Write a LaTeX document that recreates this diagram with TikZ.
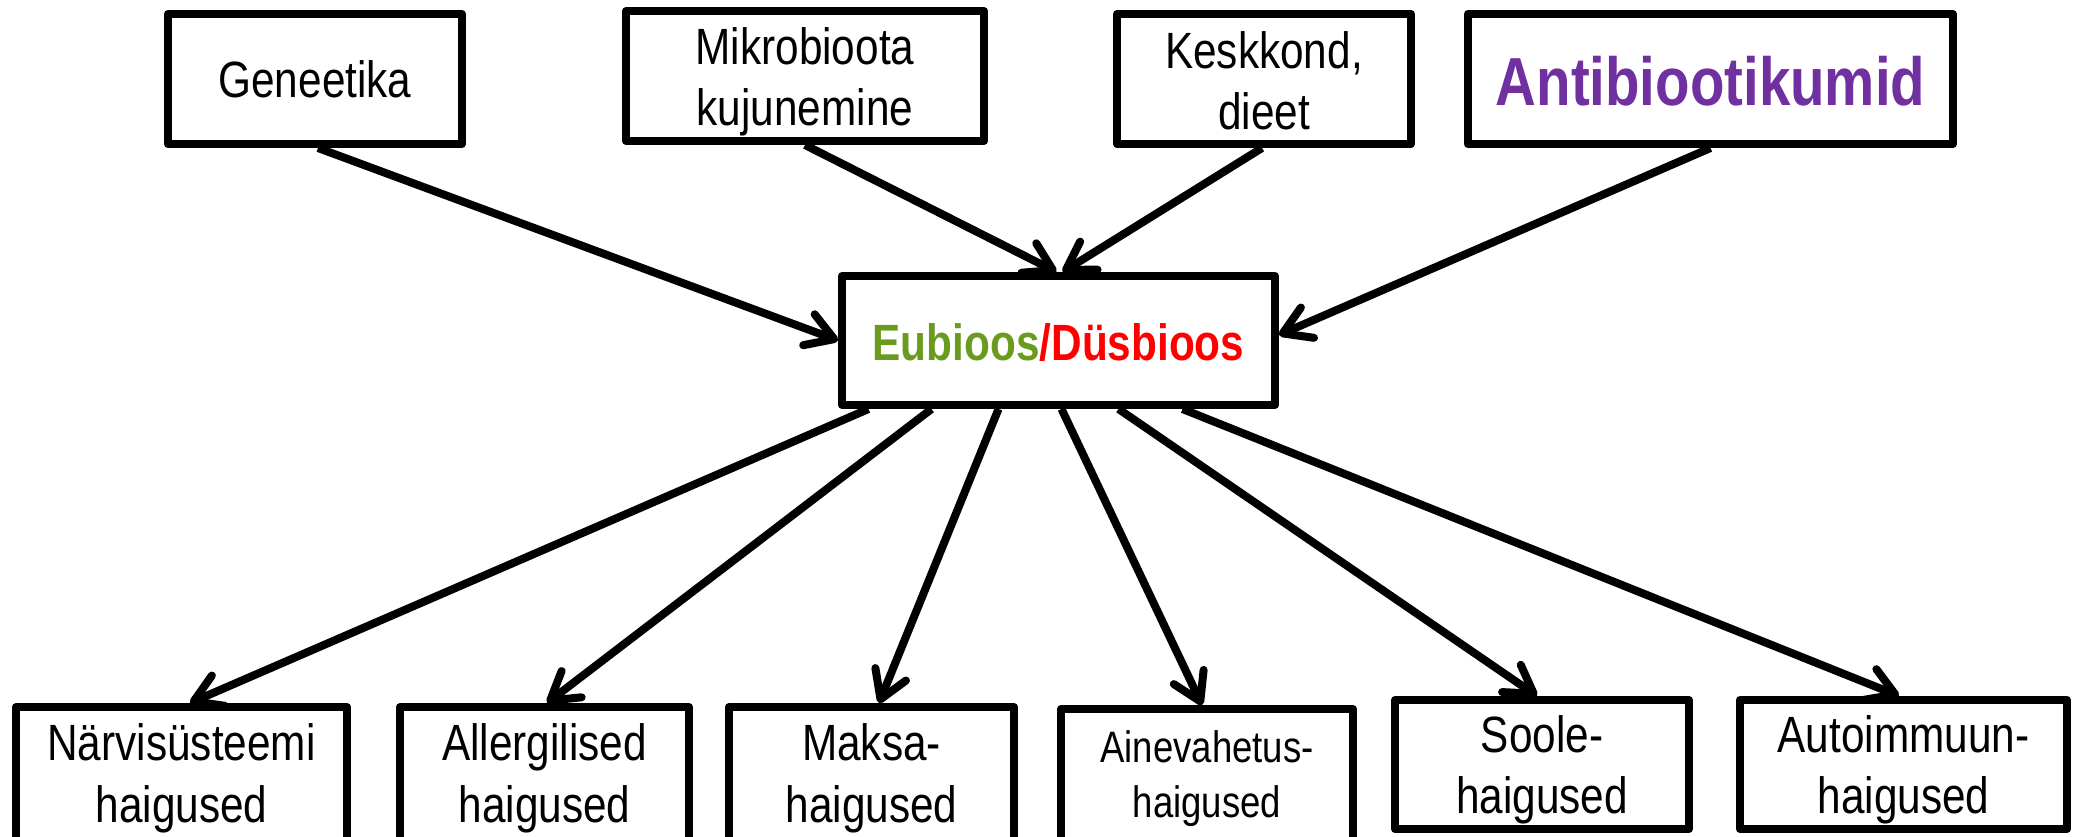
\documentclass[tikz,border=0pt]{standalone}
\usepackage{fontspec}
\setmainfont{Liberation Sans}[FakeStretch=0.83]
\usetikzlibrary{arrows.meta}
\definecolor{eugreen}{RGB}{107,155,30}
\definecolor{dysred}{RGB}{255,0,0}
\definecolor{abpurple}{RGB}{112,48,160}
\begin{document}
\begin{tikzpicture}[x=1pt,y=-1pt,
  box/.style={draw, line width=8pt, line join=round, rectangle, inner sep=0pt},
  lbl/.style={anchor=base, inner sep=0pt, font=\fontsize{51}{62}\selectfont},
  lblsmall/.style={anchor=base, inner sep=0pt, font=\fontsize{44}{54}\selectfont},
  conn/.style={line width=8pt, -{Straight Barb[length=27pt,width=33pt,round]}}]
\clip (0,0) rectangle (2074,837);
\fill[white] (0,0) rectangle (2074,837);
% top boxes
\node[box, minimum width=294pt, minimum height=130pt] (gen) at (315,79) {};
\node[box, minimum width=358pt, minimum height=130pt] (mik) at (805,76) {};
\node[box, minimum width=294pt, minimum height=130pt] (kes) at (1264,79) {};
\node[box, minimum width=485pt, minimum height=130pt] (ant) at (1710.5,79) {};
% center
\node[box, minimum width=433pt, minimum height=129pt] (eub) at (1058.5,340.5) {};
% bottom boxes
\node[box, minimum width=331pt, minimum height=159pt] (nar) at (181.5,786.5) {};
\node[box, minimum width=289pt, minimum height=159pt] (all) at (544.5,786.5) {};
\node[box, minimum width=285pt, minimum height=159pt] (mak) at (871.5,786.5) {};
\node[box, minimum width=292pt, minimum height=157pt] (ain) at (1207,787.5) {};
\node[box, minimum width=294pt, minimum height=129pt] (soo) at (1542,764.5) {};
\node[box, minimum width=327pt, minimum height=129pt] (aut) at (1903.5,764.5) {};
% labels
\node[lbl] (genA) at (315,98) {Geneetika};
\node[lbl] (mikA) at (805,65) {Mikrobioota};
\node[lbl] (mikB) at (805,126) {kujunemine};
\node[lbl] (kesA) at (1264,69) {Keskkond,};
\node[lbl] (kesB) at (1264,130) {dieet};
\node[lbl, font=\fontsize{68}{80}\selectfont\bfseries, text=abpurple] (antA) at (1710.5,106) {Antibiootikumid};
\node[lbl, font=\fontsize{51}{62}\selectfont\bfseries] (eubA) at (1058.5,360) {\textcolor{eugreen}{Eubioos}\textcolor{dysred}{/Düsbioos}};
\node[lbl] (narA) at (181.5,760) {Närvisüsteemi};
\node[lbl] (narB) at (181.5,822) {haigused};
\node[lbl] (allA) at (544.5,760) {Allergilised};
\node[lbl] (allB) at (544.5,822) {haigused};
\node[lbl] (makA) at (871.5,760) {Maksa-};
\node[lbl] (makB) at (871.5,822) {haigused};
\node[lblsmall] (ainA) at (1207,762) {Ainevahetus-};
\node[lblsmall] (ainB) at (1207,817) {haigused};
\node[lbl] (sooA) at (1542,752) {Soole-};
\node[lbl] (sooB) at (1542,813) {haigused};
\node[lbl] (autA) at (1903.5,752) {Autoimmuun-};
\node[lbl] (autB) at (1903.5,813) {haigused};
% arrows in
\draw[conn] ([xshift=3pt]gen.south) -- (eub.west);
\draw[conn] (mik.south) -- ([xshift=-2pt]eub.north);
\draw[conn] ([xshift=-2pt]kes.south) -- ([xshift=4pt]eub.north);
\draw[conn] (ant.south) -- ([yshift=5.5pt]eub.east);
% arrows out
\draw[conn] ([xshift=-190pt]eub.south) -- ([xshift=8.5pt]nar.north);
\draw[conn] ([xshift=-127pt]eub.south) -- ([xshift=2.5pt]all.north);
\draw[conn] ([xshift=-60pt]eub.south) -- ([xshift=7.5pt]mak.north);
\draw[conn] ([xshift=3pt]eub.south) -- ([xshift=-5pt]ain.north);
\draw[conn] ([xshift=60pt]eub.south) -- ([xshift=-5pt]soo.north);
\draw[conn] ([xshift=124pt]eub.south) -- ([xshift=-4.5pt]aut.north);
\end{tikzpicture}
\end{document}
